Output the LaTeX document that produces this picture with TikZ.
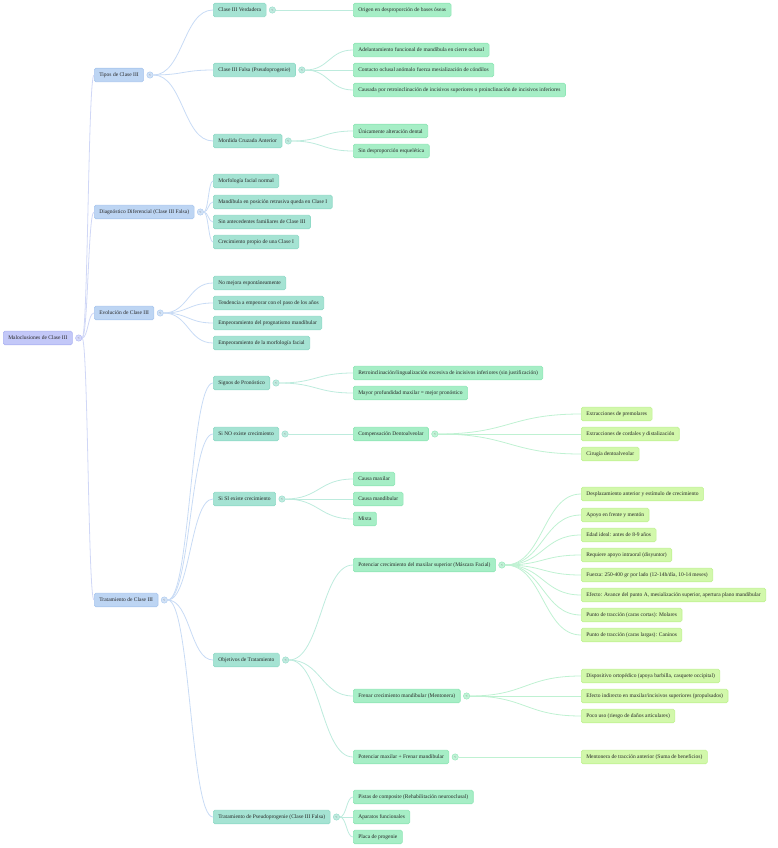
\documentclass[tikz,border=0pt]{standalone}
\usepackage{fontspec}
\setmainfont{Liberation Serif}
\usetikzlibrary{calc}
\definecolor{rootfill}{HTML}{C3C8F8}
\definecolor{rootdraw}{HTML}{ADB3F2}
\definecolor{lafill}{HTML}{BDD5F3}
\definecolor{ladraw}{HTML}{A9C7EE}
\definecolor{lbfill}{HTML}{A5E3D3}
\definecolor{lbdraw}{HTML}{90DAC7}
\definecolor{lcfill}{HTML}{A6EEC6}
\definecolor{lcdraw}{HTML}{8FE6B6}
\definecolor{ldfill}{HTML}{D2F8AB}
\definecolor{lddraw}{HTML}{C0F292}
\definecolor{ea}{HTML}{D0D7F6}
\definecolor{eb}{HTML}{C8DBF5}
\definecolor{ec}{HTML}{BDEBDD}
\definecolor{ed}{HTML}{BFF1D2}
\newcommand\mmedge[3]{\draw[#1] let \p1=(#2), \p2=(#3) in (\p1) .. controls ({0.5*\x1+0.5*\x2},\y1) and ({0.5*\x1+0.5*\x2},\y2) .. (\p2);}
\begin{document}
\begin{tikzpicture}[x=1pt,y=-1pt,
  box/.style={anchor=west,rounded corners=1.6pt,line width=0.6pt,inner xsep=5pt,inner ysep=0pt,minimum height=13.5pt,font=\fontsize{5.5}{6.5}\selectfont,text=black!85},
  lr/.style={box,fill=rootfill,draw=rootdraw},
  la/.style={box,fill=lafill,draw=ladraw},
  lb/.style={box,fill=lbfill,draw=lbdraw},
  lc/.style={box,fill=lcfill,draw=lcdraw},
  ld/.style={box,fill=ldfill,draw=lddraw},
  tog/.style={circle,inner sep=0pt,minimum size=6.4pt,line width=0.4pt,font=\fontsize{3.8}{4}\selectfont,text=black!60},
  tr/.style={tog,fill=rootfill!70,draw=rootdraw},
  ta/.style={tog,fill=lafill!70,draw=ladraw},
  tb/.style={tog,fill=lbfill!70,draw=lbdraw},
  tc/.style={tog,fill=lcfill!70,draw=lcdraw},
  wa/.style={draw=ea,line width=0.8pt},
  wb/.style={draw=eb,line width=0.8pt},
  wc/.style={draw=ec,line width=0.8pt},
  wd/.style={draw=ed,line width=0.8pt}]
\useasboundingbox (0,0) rectangle (777,848);
% root
\node[lr] (root) at (3,338) {Maloclusiones de Clase III};
\node[tr] (rootT) at ([xshift=6pt]root.east) {<};
% level 1
\node[la] (tipos) at (94,75) {Tipos de Clase III};
\node[ta] (tiposT) at ([xshift=6pt]tipos.east) {<};
\node[la] (diag) at (94,212) {Diagnóstico Diferencial (Clase III Falsa)};
\node[ta] (diagT) at ([xshift=6pt]diag.east) {<};
\node[la] (evol) at (94,313) {Evolución de Clase III};
\node[ta] (evolT) at ([xshift=6pt]evol.east) {<};
\node[la] (trat) at (94,600) {Tratamiento de Clase III};
\node[ta] (tratT) at ([xshift=6pt]trat.east) {<};
% level 2
\node[lb] (cv) at (213,10) {Clase III Verdadera};
\node[tb] (cvT) at ([xshift=6pt]cv.east) {<};
\node[lb] (cf) at (213,70) {Clase III Falsa (Pseudoprogenie)};
\node[tb] (cfT) at ([xshift=6pt]cf.east) {<};
\node[lb] (mca) at (213,141) {Mordida Cruzada Anterior};
\node[tb] (mcaT) at ([xshift=6pt]mca.east) {<};
\node[lb] (d1) at (213,181) {Morfología facial normal};
\node[lb] (d2) at (213,202) {Mandíbula en posición retrusiva queda en Clase I};
\node[lb] (d3) at (213,222) {Sin antecedentes familiares de Clase III};
\node[lb] (d4) at (213,242) {Crecimiento propio de una Clase I};
\node[lb] (e1) at (213,283) {No mejora espontáneamente};
\node[lb] (e2) at (213,303) {Tendencia a empeorar con el paso de los años};
\node[lb] (e3) at (213,323) {Empeoramiento del prognatismo mandibular};
\node[lb] (e4) at (213,343) {Empeoramiento de la morfología facial};
\node[lb] (sp) at (213,383) {Signos de Pronóstico};
\node[tb] (spT) at ([xshift=6pt]sp.east) {<};
\node[lb] (sno) at (213,434) {Si NO existe crecimiento};
\node[tb] (snoT) at ([xshift=6pt]sno.east) {<};
\node[lb] (ssi) at (213,499) {Si SI existe crecimiento};
\node[tb] (ssiT) at ([xshift=6pt]ssi.east) {<};
\node[lb] (obj) at (213,660) {Objetivos de Tratamiento};
\node[tb] (objT) at ([xshift=6pt]obj.east) {<};
\node[lb] (tps) at (213,817) {Tratamiento de Pseudoprogenie (Clase III Falsa)};
\node[tb] (tpsT) at ([xshift=6pt]tps.east) {<};
% level 3
\node[lc] (o1) at (353,10) {Origen en desproporción de bases óseas};
\node[lc] (f1) at (353,50) {Adelantamiento funcional de mandíbula en cierre oclusal};
\node[lc] (f2) at (353,70) {Contacto oclusal anómalo fuerza mesialización de cóndilos};
\node[lc] (f3) at (353,90) {Causada por retroinclinación de incisivos superiores o proinclinación de incisivos inferiores};
\node[lc] (m1) at (353,131) {Únicamente alteración dental};
\node[lc] (m2) at (353,151) {Sin desproporción esquelética};
\node[lc] (p1) at (353,373) {Retroinclinación/lingualización excesiva de incisivos inferiores (sin justificación)};
\node[lc] (p2) at (353,393) {Mayor profundidad maxilar = mejor pronóstico};
\node[lc] (comp) at (353,434) {Compensación Dentoalveolar};
\node[tc] (compT) at ([xshift=6pt]comp.east) {<};
\node[lc] (cmx) at (353,479) {Causa maxilar};
\node[lc] (cmd) at (353,499) {Causa mandibular};
\node[lc] (mix) at (353,519) {Mixta};
\node[lc] (pot) at (353,565) {Potenciar crecimiento del maxilar superior (Máscara Facial)};
\node[tc] (potT) at ([xshift=6pt]pot.east) {<};
\node[lc] (fre) at (353,696) {Frenar crecimiento mandibular (Mentonera)};
\node[tc] (freT) at ([xshift=6pt]fre.east) {<};
\node[lc] (pmf) at (353,757) {Potenciar maxilar + Frenar mandibular};
\node[tc] (pmfT) at ([xshift=6pt]pmf.east) {<};
\node[lc] (pc) at (353,797) {Pistas de composite (Rehabilitación neurooclusal)};
\node[lc] (af) at (353,817) {Aparatos funcionales};
\node[lc] (pp) at (353,837) {Placa de progenie};
% level 4
\node[ld] (x1) at (581,414) {Extracciones de premolares};
\node[ld] (x2) at (581,434) {Extracciones de cordales y distalización};
\node[ld] (x3) at (581,454) {Cirugía dentoalveolar};
\node[ld] (q1) at (581,494) {Desplazamiento anterior y estímulo de crecimiento};
\node[ld] (q2) at (581,515) {Apoyo en frente y mentón};
\node[ld] (q3) at (581,535) {Edad ideal: antes de 8-9 años};
\node[ld] (q4) at (581,555) {Requiere apoyo intraoral (disyuntor)};
\node[ld] (q5) at (581,575) {Fuerza: 250-400 gr por lado (12-14h/día, 10-14 meses)};
\node[ld] (q6) at (581,595) {Efecto: Avance del punto A, mesialización superior, apertura plano mandibular};
\node[ld] (q7) at (581,615) {Punto de tracción (caras cortas): Molares};
\node[ld] (q8) at (581,635) {Punto de tracción (caras largas): Caninos};
\node[ld] (r1) at (581,676) {Dispositivo ortopédico (apoya barbilla, casquete occipital)};
\node[ld] (r2) at (581,696) {Efecto indirecto en maxilar/incisivos superiores (propulsados)};
\node[ld] (r3) at (581,716) {Poco uso (riesgo de daños articulares)};
\node[ld] (s1) at (581,757) {Mentonera de tracción anterior (Suma de beneficios)};
% edges root -> L1
\foreach \c in {tipos,diag,evol,trat} {\mmedge{wa}{rootT.east}{\c.west}}
% L1 -> L2
\foreach \c in {cv,cf,mca} {\mmedge{wb}{tiposT.east}{\c.west}}
\foreach \c in {d1,d2,d3,d4} {\mmedge{wb}{diagT.east}{\c.west}}
\foreach \c in {e1,e2,e3,e4} {\mmedge{wb}{evolT.east}{\c.west}}
\foreach \c in {sp,sno,ssi,obj,tps} {\mmedge{wb}{tratT.east}{\c.west}}
% L2 -> L3
\mmedge{wc}{cvT.east}{o1.west}
\foreach \c in {f1,f2,f3} {\mmedge{wc}{cfT.east}{\c.west}}
\foreach \c in {m1,m2} {\mmedge{wc}{mcaT.east}{\c.west}}
\foreach \c in {p1,p2} {\mmedge{wc}{spT.east}{\c.west}}
\mmedge{wc}{snoT.east}{comp.west}
\foreach \c in {cmx,cmd,mix} {\mmedge{wc}{ssiT.east}{\c.west}}
\foreach \c in {pot,fre,pmf} {\mmedge{wc}{objT.east}{\c.west}}
\foreach \c in {pc,af,pp} {\mmedge{wc}{tpsT.east}{\c.west}}
% L3 -> L4
\foreach \c in {x1,x2,x3} {\mmedge{wd}{compT.east}{\c.west}}
\foreach \c in {q1,q2,q3,q4,q5,q6,q7,q8} {\mmedge{wd}{potT.east}{\c.west}}
\foreach \c in {r1,r2,r3} {\mmedge{wd}{freT.east}{\c.west}}
\mmedge{wd}{pmfT.east}{s1.west}
\end{tikzpicture}
\end{document}
